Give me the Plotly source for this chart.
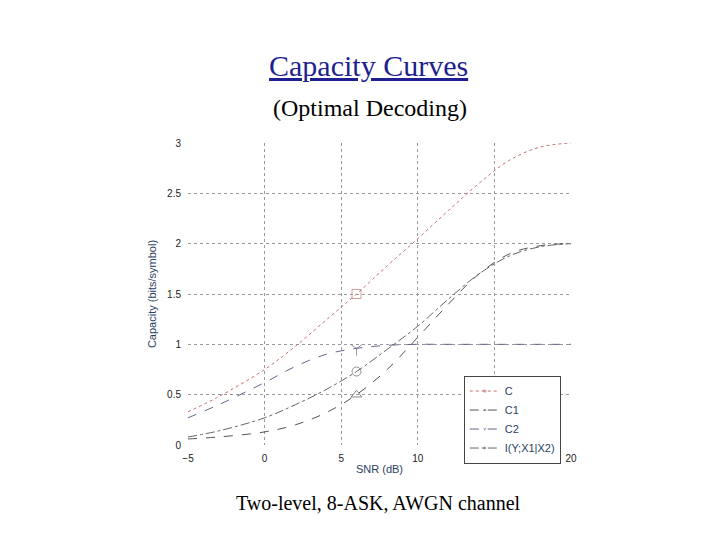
import plotly.graph_objects as go

snr = [-5, -3, 0, 2, 4, 6, 8, 10, 12, 14, 16, 18, 20]
cap_c = [0.33, 0.48, 0.75, 0.98, 1.24, 1.5, 1.78, 2.05, 2.33, 2.6, 2.83, 2.96, 3.0]
cap_c1 = [0.06, 0.08, 0.13, 0.2, 0.32, 0.5, 0.75, 1.07, 1.4, 1.7, 1.9, 1.98, 2.0]
cap_c2 = [0.27, 0.4, 0.62, 0.78, 0.9, 0.96, 0.99, 1.0, 1.0, 1.0, 1.0, 1.0, 1.0]
cap_i = [0.08, 0.14, 0.27, 0.4, 0.55, 0.73, 0.95, 1.18, 1.45, 1.7, 1.88, 1.97, 2.0]
names = ["C", "C1", "C2", "I(Y;X1|X2)"]
mark_x = 6

series = [cap_c, cap_c1, cap_c2, cap_i]
colors = ["#c87070", "#555555", "#666688", "#666666"]
dashes = ["dot", "dash", "dash", "dashdot"]
symbols = ["square-open", "triangle-up-open", "y-down-open", "circle-open"]

fig = go.Figure()
for name, ys, col, d, sym in zip(names, series, colors, dashes, symbols):
    sizes = [9 if x == mark_x else 0 for x in snr]
    fig.add_trace(go.Scatter(x=snr, y=ys, name=name, mode="lines+markers",
                             line=dict(color=col, width=1, dash=d, shape="spline"),
                             marker=dict(symbol=sym, size=sizes, color=col, line=dict(color=col, width=1))))

ax = dict(showline=False, zeroline=False, showgrid=True, gridcolor="#999999", griddash="dot",
          gridwidth=1, ticks="", automargin=False, ticklabelstandoff=6,
          tickfont=dict(family="Liberation Sans", size=10, color="#222"))
fig.update_layout(
    width=720, height=540, plot_bgcolor="white", paper_bgcolor="white",
    margin=dict(l=180, r=157, t=135, b=103, autoexpand=False),
    xaxis=dict(range=[-5, 20], dtick=5, title=dict(text="SNR (dB)", font=dict(family="Liberation Sans", size=11), standoff=2), **ax),
    yaxis=dict(range=[0, 3], dtick=0.5, title=dict(text="Capacity (bits/symbol)", font=dict(family="Liberation Sans", size=11), standoff=8), **ax),
    legend=dict(x=0.72, y=0.23, xanchor="left", yanchor="top", bgcolor="white", bordercolor="#444", borderwidth=1,
                font=dict(family="Liberation Sans", size=11), tracegroupgap=0, itemwidth=30),
    annotations=[
        dict(text="<u>Capacity Curves</u>", x=0.5, y=0, xref="paper", yref="paper", yanchor="middle", showarrow=False,
             font=dict(family="Liberation Serif", size=30, color="#1f1f8f")),
        dict(text="(Optimal Decoding)", x=0.5, y=0, xref="paper", yref="paper", yanchor="middle", showarrow=False,
             font=dict(family="Liberation Serif", size=24, color="black")),
        dict(text="Two-level, 8-ASK, AWGN channel", x=0.5, y=0, xref="paper", yref="paper", yanchor="middle", showarrow=False,
             font=dict(family="Liberation Serif", size=20, color="black")),
    ],
)
ph = 302
fig.layout.annotations[0].y = 1 + (135 - 57) / ph
fig.layout.annotations[1].y = 1 + (135 - 100) / ph
fig.layout.annotations[2].y = -(495 - 437) / ph
fig.layout.annotations[0].x = (360 - 180) / 383
fig.layout.annotations[1].x = (362 - 180) / 383
fig.layout.annotations[2].x = (370 - 180) / 383
fig.write_html("out.html")
